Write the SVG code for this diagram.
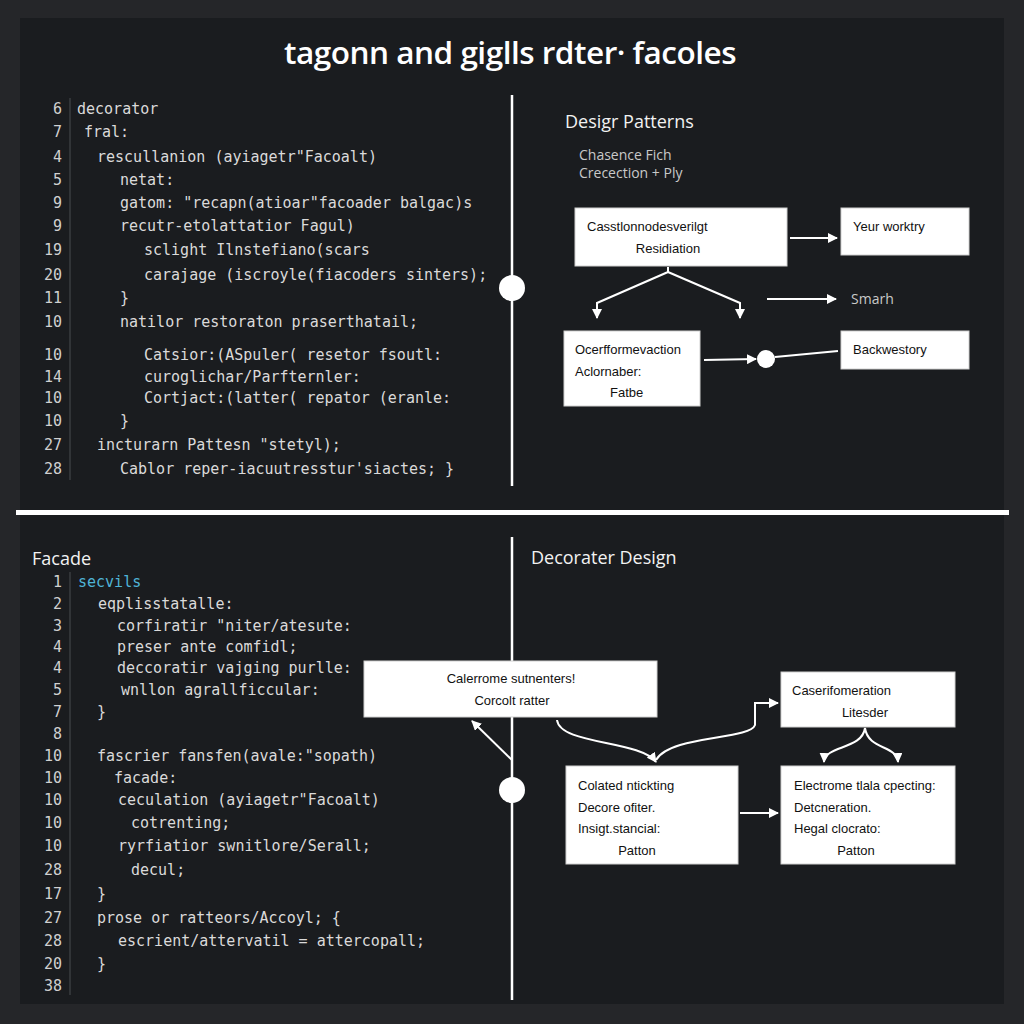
<svg xmlns="http://www.w3.org/2000/svg" width="1024" height="1024" viewBox="0 0 1024 1024">
<defs>
<style>
.bg{fill:#252629}
.panel{fill:#1a1c1f}
.title{font-family:"Open Sans","Liberation Sans",sans-serif;font-size:31px;font-weight:600;fill:#ffffff;letter-spacing:-0.5px}
.h{font-family:"Open Sans","Liberation Sans",sans-serif;font-size:18px;fill:#f2f2f2}
.sub{font-family:"Open Sans","Liberation Sans",sans-serif;font-size:14px;fill:#c9c9c9}
.code{font-family:"DejaVu Sans Mono","Liberation Mono",monospace;font-size:15px;fill:#dadada}
.ln{font-family:"DejaVu Sans Mono","Liberation Mono",monospace;font-size:15px;fill:#d0d0d0;text-anchor:end}
.cyan{fill:#4fb4d6}
.gut{stroke:#3a3c40;stroke-width:1.5}
.box{fill:#ffffff;stroke:#d0d0d0;stroke-width:1}
.bt{font-family:"Liberation Sans","Open Sans",sans-serif;font-size:13px;fill:#111111}
.c{text-anchor:middle}
.wire{stroke:#ffffff;stroke-width:2;fill:none}
.axis{stroke:#ffffff;stroke-width:2.5;fill:none}
</style>
<marker id="ah" viewBox="0 0 10 10" refX="9" refY="5" markerWidth="5" markerHeight="5" orient="auto-start-reverse">
<path d="M0,0 L10,5 L0,10 z" fill="#ffffff"/>
</marker>
</defs>
<rect class="bg" x="0" y="0" width="1024" height="1024"/>
<rect class="panel" x="20" y="18" width="984" height="986"/>

<text class="title c" x="510" y="64" textLength="452" lengthAdjust="spacingAndGlyphs">tagonn and giglls rdter· facoles</text>

<g id="dividers">
<rect x="16" y="510" width="993" height="5" fill="#ffffff"/>
<line class="axis" x1="512" y1="95" x2="512" y2="486"/>
<line class="axis" x1="512" y1="537" x2="512" y2="1000"/>
<circle cx="512" cy="288" r="13" fill="#ffffff"/>
<circle cx="512" cy="790" r="13" fill="#ffffff"/>
</g>

<g id="code-top">
<line class="gut" x1="70" y1="98" x2="70" y2="480"/>
<text class="ln" x="62" y="114">6</text><text class="code" x="77" y="114">decorator</text>
<text class="ln" x="62" y="137">7</text><text class="code" x="84" y="137">fral:</text>
<text class="ln" x="62" y="162">4</text><text class="code" x="97" y="162">rescullanion (ayiagetr"Facoalt)</text>
<text class="ln" x="62" y="185">5</text><text class="code" x="120" y="185">netat:</text>
<text class="ln" x="62" y="208">9</text><text class="code" x="120" y="208">gatom: "recapn(atioar"facoader balgac)s</text>
<text class="ln" x="62" y="231">9</text><text class="code" x="120" y="231">recutr-etolattatior Fagul)</text>
<text class="ln" x="62" y="255">19</text><text class="code" x="144" y="255">sclight Ilnstefiano(scars</text>
<text class="ln" x="62" y="280">20</text><text class="code" x="144" y="280">carajage (iscroyle(fiacoders sinters);</text>
<text class="ln" x="62" y="303">11</text><text class="code" x="120" y="303">}</text>
<text class="ln" x="62" y="327">10</text><text class="code" x="120" y="327">natilor restoraton praserthatail;</text>
<text class="ln" x="62" y="360">10</text><text class="code" x="144" y="360">Catsior:(ASpuler( resetor fsoutl:</text>
<text class="ln" x="62" y="382">14</text><text class="code" x="144" y="382">curoglichar/Parfternler:</text>
<text class="ln" x="62" y="403">10</text><text class="code" x="144" y="403">Cortjact:(latter( repator (eranle:</text>
<text class="ln" x="62" y="426">10</text><text class="code" x="120" y="426">}</text>
<text class="ln" x="62" y="450">27</text><text class="code" x="97" y="450">incturarn Pattesn "stetyl);</text>
<text class="ln" x="62" y="474">28</text><text class="code" x="120" y="474">Cablor reper-iacuutresstur'siactes; }</text>
</g>

<g id="top-right-heading">
<text class="h" x="565" y="128">Desigr Patterns</text>
<text class="sub" x="579" y="160">Chasence Fich</text>
<text class="sub" x="579" y="178">Crecection + Ply</text>
</g>

<g id="node-a">
<rect class="box" x="575" y="208" width="212" height="58"/>
<text class="bt" x="587" y="231">Casstlonnodesverilgt</text>
<text class="bt c" x="668" y="253">Residiation</text>
</g>
<g id="node-b">
<rect class="box" x="841" y="208" width="128" height="47"/>
<text class="bt" x="853" y="231">Yeur worktry</text>
</g>
<g id="node-smarh">
<text class="sub" x="851" y="304">Smarh</text>
</g>
<g id="node-c">
<rect class="box" x="564" y="331" width="136" height="75"/>
<text class="bt" x="575" y="354">Ocerfformevaction</text>
<text class="bt" x="575" y="376">Aclornaber:</text>
<text class="bt" x="610" y="397">Fatbe</text>
</g>
<g id="node-d">
<rect class="box" x="841" y="331" width="128" height="38"/>
<text class="bt" x="853" y="354">Backwestory</text>
</g>

<g id="code-bottom">
<text class="h" x="32" y="565">Facade</text>
<line class="gut" x1="70" y1="572" x2="70" y2="995"/>
<text class="ln" x="62" y="587">1</text><text class="code cyan" x="78" y="587">secvils</text>
<text class="ln" x="62" y="609">2</text><text class="code" x="98" y="609">eqplisstatalle:</text>
<text class="ln" x="62" y="631">3</text><text class="code" x="117" y="631">corfiratir "niter/atesute:</text>
<text class="ln" x="62" y="652">4</text><text class="code" x="117" y="652">preser ante comfidl;</text>
<text class="ln" x="62" y="673">4</text><text class="code" x="117" y="673">deccoratir vajging purlle:</text>
<text class="ln" x="62" y="695">5</text><text class="code" x="121" y="695">wnllon agrallficcular:</text>
<text class="ln" x="62" y="717">7</text><text class="code" x="97" y="717">}</text>
<text class="ln" x="62" y="739">8</text>
<text class="ln" x="62" y="761">10</text><text class="code" x="97" y="761">fascrier fansfen(avale:"sopath)</text>
<text class="ln" x="62" y="783">10</text><text class="code" x="114" y="783">facade:</text>
<text class="ln" x="62" y="805">10</text><text class="code" x="118" y="805">ceculation (ayiagetr"Facoalt)</text>
<text class="ln" x="62" y="828">10</text><text class="code" x="131" y="828">cotrenting;</text>
<text class="ln" x="62" y="851">10</text><text class="code" x="118" y="851">ryrfiatior swnitlore/Serall;</text>
<text class="ln" x="62" y="875">28</text><text class="code" x="131" y="875">decul;</text>
<text class="ln" x="62" y="899">17</text><text class="code" x="97" y="899">}</text>
<text class="ln" x="62" y="923">27</text><text class="code" x="97" y="923">prose or ratteors/Accoyl; {</text>
<text class="ln" x="62" y="946">28</text><text class="code" x="118" y="946">escrient/attervatil = attercopall;</text>
<text class="ln" x="62" y="969">20</text><text class="code" x="97" y="969">}</text>
<text class="ln" x="62" y="991">38</text>
</g>

<g id="bottom-right-heading">
<text class="h" x="531" y="564">Decorater Design</text>
</g>

<g id="node-e">
<rect class="box" x="364" y="661" width="293" height="56"/>
<text class="bt c" x="511" y="683">Calerrome sutnenters!</text>
<text class="bt c" x="512" y="705">Corcolt ratter</text>
</g>
<g id="node-f">
<rect class="box" x="566" y="766" width="172" height="98"/>
<text class="bt" x="578" y="790">Colated ntickting</text>
<text class="bt" x="578" y="812">Decore ofiter.</text>
<text class="bt" x="578" y="833">Insigt.stancial:</text>
<text class="bt c" x="637" y="855">Patton</text>
</g>
<g id="node-g">
<rect class="box" x="781" y="672" width="174" height="55"/>
<text class="bt" x="792" y="695">Caserifomeration</text>
<text class="bt c" x="865" y="717">Litesder</text>
</g>
<g id="node-h">
<rect class="box" x="781" y="766" width="174" height="98"/>
<text class="bt" x="794" y="790">Electrome tlala cpecting:</text>
<text class="bt" x="794" y="812">Detcneration.</text>
<text class="bt" x="794" y="833">Hegal clocrato:</text>
<text class="bt c" x="856" y="855">Patton</text>
</g>

<g id="connectors">
<line class="wire" x1="790" y1="238" x2="837" y2="238" marker-end="url(#ah)"/>
<path class="wire" d="M668,267 L668,272 L597,303 L597,318" marker-end="url(#ah)"/>
<path class="wire" d="M668,272 L740,303 L740,318" marker-end="url(#ah)"/>
<line class="wire" x1="767" y1="299" x2="836" y2="299" marker-end="url(#ah)"/>
<line class="wire" x1="704" y1="360" x2="756" y2="359" marker-end="url(#ah)"/>
<circle cx="766" cy="359" r="9" fill="#ffffff"/>
<line class="wire" x1="775" y1="357" x2="838" y2="351"/>
<line class="wire" x1="512" y1="760" x2="472" y2="721" marker-end="url(#ah)"/>
<path class="wire" d="M557,720 C560,745 640,740 656,762" marker-end="url(#ah)"/>
<path class="wire" d="M656,760 C670,735 750,740 755,725 L755,703 L778,703" marker-end="url(#ah)"/>
<path class="wire" d="M865,728 C862,750 825,745 824,762" marker-end="url(#ah)"/>
<path class="wire" d="M865,728 C868,750 897,745 898,762" marker-end="url(#ah)"/>
<line class="wire" x1="740" y1="813" x2="778" y2="813" marker-end="url(#ah)"/>
</g>
</svg>
